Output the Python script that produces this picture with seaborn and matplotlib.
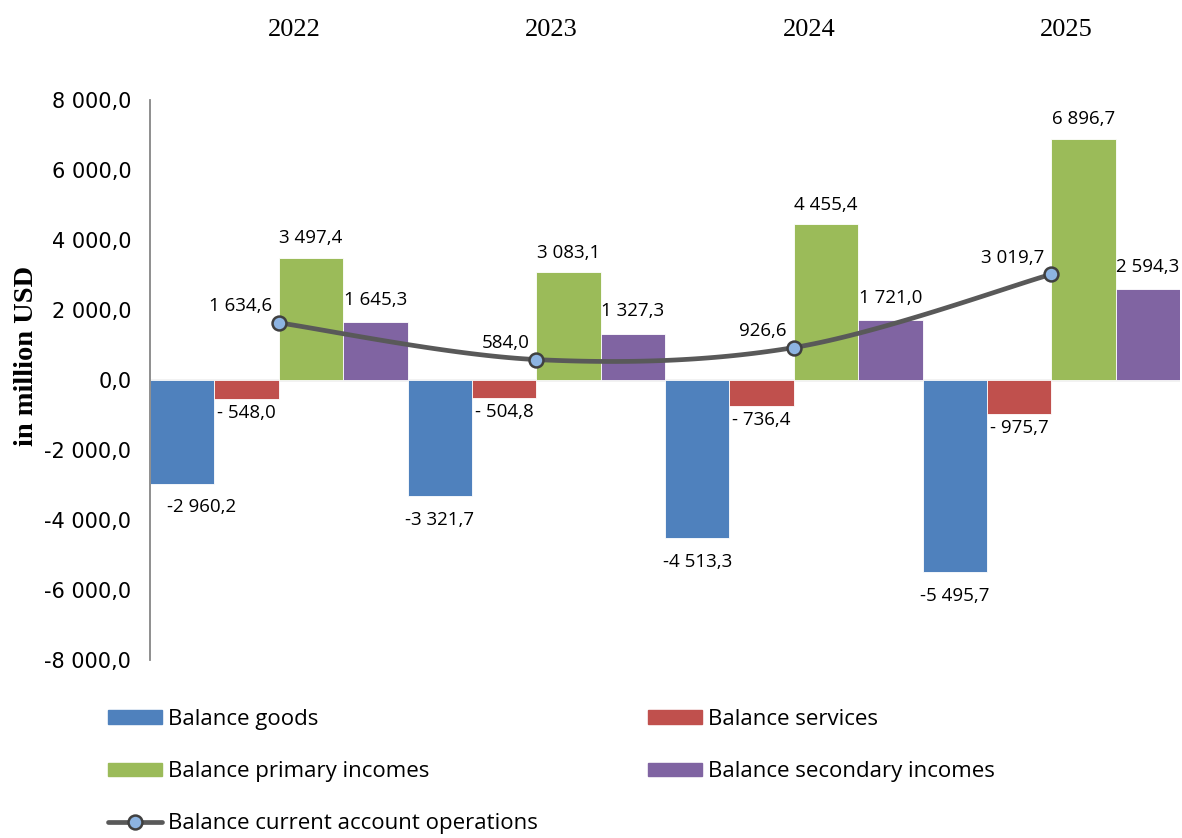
import numpy as np
import pandas as pd
import seaborn as sns
import matplotlib
matplotlib.use("Agg")
import matplotlib.pyplot as plt
from matplotlib.patches import Patch
from matplotlib.lines import Line2D
from matplotlib.transforms import blended_transform_factory

# values in million USD
years = ["2022", "2023", "2024", "2025"]
series = ["Balance goods", "Balance services",
          "Balance primary incomes", "Balance secondary incomes"]
goods = [-2960.2, -3321.7, -4513.3, -5495.7]
services = [-548.0, -504.8, -736.4, -975.7]
primary = [3497.4, 3083.1, 4455.4, 6896.7]
secondary = [1645.3, 1327.3, 1721.0, 2594.3]
current = [1634.6, 584.0, 926.6, 3019.7]
current_name = "Balance current account operations"

colors = ["#4F81BD", "#C0504D", "#9BBB59", "#8064A2"]

sns.set_style("white")
plt.rcParams["font.family"] = ["Open Sans", "DejaVu Sans"]
plt.rcParams["text.color"] = "black"
plt.rcParams["axes.labelcolor"] = "black"
plt.rcParams["ytick.color"] = "black"


def fmt(v):
    # excel style "# ##0,0"
    s = f"{abs(v):,.1f}".replace(",", " ").replace(".", ",")
    if v < 0:
        return ("- " if abs(v) < 1000 else "-") + s
    return s


def smooth(xs, ys, n=40):
    # excel-like smoothed line (catmull-rom bezier)
    p = np.column_stack([xs, ys]).astype(float)
    p = np.vstack([p[0], p, p[-1]])
    out = []
    t = np.linspace(0, 1, n)[:, None]
    for i in range(1, len(p) - 2):
        p0, p1, p2, p3 = p[i - 1], p[i], p[i + 1], p[i + 2]
        c1 = p1 + (p2 - p0) / 6
        c2 = p2 - (p3 - p1) / 6
        seg = ((1 - t) ** 3) * p1 + 3 * ((1 - t) ** 2) * t * c1 + 3 * (1 - t) * t ** 2 * c2 + t ** 3 * p2
        out.append(seg)
    out = np.vstack(out)
    return out[:, 0], out[:, 1]


df = pd.DataFrame({
    "year": np.repeat(years, 4),
    "series": series * 4,
    "value": np.array([goods, services, primary, secondary]).T.ravel(),
})

fig = plt.figure(figsize=(11.82, 8.38), dpi=100)
ax = fig.add_axes([150 / 1182, 1 - 660 / 838, 1030 / 1182, 560 / 838])

ax.axhline(0, color="#BFBFBF", lw=1, zorder=0)
sns.barplot(data=df, x="year", y="value", hue="series", hue_order=series,
            palette=colors, saturation=1, width=1.0, gap=0, dodge=True,
            legend=False, edgecolor="white", linewidth=0.6, ax=ax, zorder=2)

xs = np.arange(len(years))
sx, sy = smooth(xs, current)
ax.plot(sx, sy, color="#595959", lw=3.4, zorder=3, solid_capstyle="round")
ax.plot(xs, current, ls="none", marker="o", ms=10, mfc="#8DB4E2",
        mec="#404040", mew=1.8, zorder=4)

ax.set_xlim(-0.5, 3.5)
ax.set_ylim(-8000, 8000)
ax.set_yticks(np.arange(-8000, 8001, 2000))
ax.set_yticklabels([fmt(v) for v in np.arange(-8000, 8001, 2000)],
                   family="DejaVu Sans", fontsize=15)
ax.set_xticks([])
ax.set_xlabel("")
ax.set_ylabel("in million USD", family="Liberation Serif", fontweight="bold",
              fontsize=20.5, labelpad=6)
ax.yaxis.set_label_coords(-0.108, 0.543)
for s in ["top", "right", "bottom"]:
    ax.spines[s].set_visible(False)
ax.spines["left"].set_color("#868686")
ax.spines["left"].set_linewidth(1.3)
ax.tick_params(axis="y", direction="out", length=4.5, width=1.2,
               color="#868686", pad=9)

# bar value labels
offsets = [-17, -10, 14, 16]
for k, cont in enumerate(ax.containers[:4]):
    for j, bar in enumerate(cont):
        v = bar.get_height()
        xc = bar.get_x() + bar.get_width() / 2
        dx = 14 if (k == 0 and j == 0) else 0
        ax.annotate(fmt(v), (xc, v), xytext=(dx, offsets[k]),
                    textcoords="offset points", ha="center", va="center",
                    fontsize=13.5, zorder=5)

for x, v in zip(xs, current):
    ax.annotate(fmt(v), (x, v), xytext=(-5, 12), textcoords="offset points",
                ha="right", va="center", fontsize=13.5, zorder=5)

# year headers
hdr = blended_transform_factory(ax.transData, fig.transFigure)
for x, y in zip(xs, years):
    ax.text(x + 0.06, 1 - 30 / 838, y, transform=hdr,
            ha="center", va="center", family="Liberation Serif", fontsize=19)

handles = [Patch(color=colors[0]), Patch(color=colors[2]),
           Line2D([], [], color="#595959", lw=3.4, marker="o", ms=10,
                  mfc="#8DB4E2", mec="#404040", mew=1.8),
           Patch(color=colors[1]), Patch(color=colors[3])]
labels = [series[0], series[2], current_name, series[1], series[3]]
fig.legend(handles, labels, loc="upper left",
           bbox_to_anchor=(108 / 1182, 1 - 709 / 838), ncol=2, frameon=False,
           fontsize=16, handlelength=2.45, handleheight=0.55,
           handletextpad=0.25, columnspacing=4.95, labelspacing=1.4,
           borderpad=0, borderaxespad=0)

fig.savefig("out.png", dpi=100)
